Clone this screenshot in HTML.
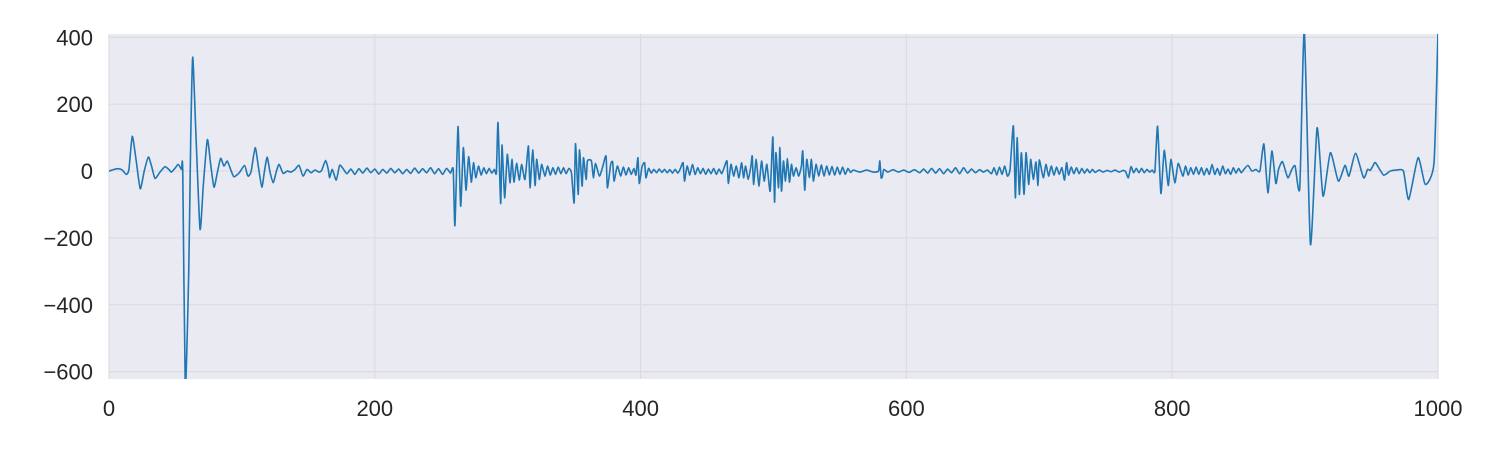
<!DOCTYPE html>
<html><head><meta charset="utf-8">
<style>
body{margin:0;background:#fff;}
svg{display:block;font-family:"Liberation Sans","DejaVu Sans",sans-serif;}
</style></head>
<body>
<svg id="chart" width="1500" height="450" viewBox="0 0 1500 450">
<rect x="109" y="34" width="1329" height="345" fill="#eaeaf2"/>
<g id="grid"></g>
<g id="ticks"></g>
<defs><clipPath id="clip"><rect x="109" y="34" width="1329" height="345"/></clipPath></defs>
<path id="line" fill="none" stroke="#1f77b4" stroke-width="1.6" stroke-linejoin="round" clip-path="url(#clip)"/>
</svg>
<script>
const xTicks = [0, 200, 400, 600, 800, 1000];
const yTicks = [-600, -400, -200, 0, 200, 400];
const xs = [0,4,7,10,13,15,17.5,20.5,23.5,26.5,29.6,32,34.6,38,42,45,47,50,52,54.5,55.5,57.4,60,61.5,63,65.5,68.5,71,74,76.5,79,81.5,84,86.5,89,91.5,94,98,102,104,105,107,110,112.5,115,117,119,121,123.5,126,128,131,134,137,140,143,146,149,152,155,158,160,163,165,166,168,171,173.5,
176,179,182,185,188,191,194,197,200,203,206,209,212,215,218,221,224,227,230,233,236,239,242,245,248,251,254,257,
259,260.3,262.6,264.6,266.6,268.6,270.6,272.6,274.3,276,278,280,282,284,286,288,290,291.5,
292.7,294.7,295.7,297.7,299.7,301.7,303.2,304.7,306.7,308.7,310.5,313,315.6,316.8,318.8,320.6,321.8,323.8,325.5,328,330,332,334,336,338,340,342,344,346,348,
350,351,353,354,356,357,359,360,363,364.5,366,369,371.5,374,375,377.5,379,380,382.5,385,387,389,391,393,395,396.5,398,399,401,403,404,406,408,410,412,414,416,418,420,422,424,426,428,430,432,433,435,437,439,441,443,445,447,449,451,453,455,457,459,461,463,465,466,468,470,472,474,476,477.5,479,481,483,484,485,487,489,491,493,495,497.5,499.5,500.8,501.8,503.8,504.8,506,507.5,509,510.5,512,
513.5,515,517,519,521,522,523.5,525,527,528.5,530,532,534,536,538,540,542,544,546,548,550,552,554,556,558,560,565,570,575,579,580,581,582,583,586,590,594,598,602,606,610,613,616,619,622,625,628,631,634,637,640,643,646,649,652,655,658,661,664,666,668,670,672,674,676,678,
680.5,682,683.3,685,686.5,688.5,690,692,693.5,695.5,697.5,699,700,703,705,707,709,711,713,715,717,719,720.5,722,724,726,728,730,732,734,736,738,740,742,745,748,751,754,757,760,763,765,767,769,771,773,775,777,779,781,783,785,787,
789,791.5,794,797,799,802,804.5,808,810,812,814,816,818,820,822,824,826,828,830,832,834,836,838,840,842,844,846,848,850,852,854,857,860,863,866,
869,872,875,878,880,883,887,890,892.5,896,899.4,904,909,913.5,919,925,930,933,938,944,947,949,951,953,959,964,969,974,978,985,990.5,997,1000];
const ys = [0,5,7,3,-10,5,104,30,-53,0,42,15,-22,-5,13,5,-3,10,20,5,0,-650,-300,100,341,100,-174,-40,94,20,-48,-5,38,15,30,5,-17,-5,17,-10,-15,0,70,10,-48,0,42,0,-35,0,20,-7,0,-3,5,17,-15,5,-5,3,-3,2,32,5,-20,5,-27,17,
8,-8,6,-10,7,-6,9,-5,6,-9,5,-6,8,-5,6,-8,5,-7,9,-6,7,-5,10,-8,7,-10,8,-6,
5,-163,133,-105,70,-57,43,-33,25,-20,15,-12,10,-8,8,-6,5,-5,
145,-97,78,-80,50,-35,35,-33,23,-27,20,-25,75,-50,63,-43,35,-25,20,-15,15,-12,10,-10,12,-8,10,-8,8,-6,
-95,82,-70,63,-45,40,-25,30,30,-20,23,-15,13,45,-50,20,27,-30,15,-15,12,-12,10,-10,8,-12,40,-37,12,25,-20,8,-6,5,-5,6,-4,5,-5,4,-6,5,-6,8,25,-30,15,-12,20,-10,10,-8,8,-10,6,-8,8,-10,6,-8,12,30,-37,20,-15,15,-20,25,-20,15,-25,15,45,-40,35,-45,30,-30,20,-60,102,-93,55,-50,70,-60,30,-30,37,-33,
20,-15,10,-15,15,60,-57,35,-20,35,-30,20,-15,18,-15,15,-12,14,-12,12,-10,12,-10,8,-4,3,-3,3,-3,0,30,-20,-15,5,-3,4,-3,3,-4,4,-5,6,-6,8,-6,7,-8,6,-5,10,-8,10,-6,6,-5,4,-3,3,-8,10,-12,12,-10,15,-15,5,
135,-80,100,-70,55,-70,55,-40,35,-25,27,-43,33,-20,20,-15,15,-12,12,-10,10,-27,25,-12,12,-8,10,-8,8,-6,6,-5,5,-4,3,-3,2,-2,3,-3,2,-2,-20,13,-5,8,-5,8,-5,5,-3,3,0,
134,-67,62,-43,35,-35,23,-15,15,-12,10,-10,12,-10,10,-12,8,-10,20,-10,8,-12,15,-8,6,-10,10,-6,8,-5,5,17,0,5,0,
81,-65,60,-37,5,28,-20,5,15,-50,420,-219,129,-75,55,-30,17,-15,53,-20,5,2,15,25,-12,0,3,0,-85,40,-40,25,420];

const L=109, R=1438, T=34, B=379;
const xMin=0, xMax=1000, yMin=-622, yMax=410;
function sx(v){return L+(v-xMin)/(xMax-xMin)*(R-L);}
function sy(v){return B-(v-yMin)/(yMax-yMin)*(B-T);}
const NS='http://www.w3.org/2000/svg';
const grid=document.getElementById('grid'), ticks=document.getElementById('ticks');
xTicks.forEach(t=>{
  const ln=document.createElementNS(NS,'line');
  
  
  ln.setAttribute('x1',sx(t));ln.setAttribute('x2',sx(t));ln.setAttribute('y1',T);ln.setAttribute('y2',B);
  ln.setAttribute('stroke','#dcdce0');ln.setAttribute('stroke-width','1.2');
  grid.appendChild(ln);
  const tx=document.createElementNS(NS,'text');
  
  
  tx.setAttribute('x',sx(t));tx.setAttribute('y',416);tx.setAttribute('text-anchor','middle');
  tx.setAttribute('font-size','22');tx.setAttribute('fill','#262626');
  tx.textContent=t;ticks.appendChild(tx);
});
yTicks.forEach(t=>{
  const ln=document.createElementNS(NS,'line');
  
  
  ln.setAttribute('x1',L);ln.setAttribute('x2',R);ln.setAttribute('y1',sy(t));ln.setAttribute('y2',sy(t));
  ln.setAttribute('stroke','#dcdce0');ln.setAttribute('stroke-width','1.2');
  grid.appendChild(ln);
  const tx=document.createElementNS(NS,'text');
  
  
  tx.setAttribute('x',93);tx.setAttribute('y',sy(t)+8);tx.setAttribute('text-anchor','end');
  tx.setAttribute('font-size','22');tx.setAttribute('fill','#262626');
  tx.textContent=(t<0?'\u2212'+(-t):t);ticks.appendChild(tx);
});
// smooth Catmull-Rom path through data points
const P=xs.map((x,i)=>[sx(x),sy(ys[i])]);
let d='M'+P[0][0].toFixed(2)+','+P[0][1].toFixed(2);
const k=0.5/3;
for(let i=0;i<P.length-1;i++){
  const p0=P[Math.max(0,i-1)],p1=P[i],p2=P[i+1],p3=P[Math.min(P.length-1,i+2)];
  const c1x=p1[0]+(p2[0]-p0[0])*k*0.6, c1y=p1[1]+(p2[1]-p0[1])*k*0.6;
  const c2x=p2[0]-(p3[0]-p1[0])*k*0.6, c2y=p2[1]-(p3[1]-p1[1])*k*0.6;
  d+='C'+c1x.toFixed(2)+','+c1y.toFixed(2)+' '+c2x.toFixed(2)+','+c2y.toFixed(2)+' '+p2[0].toFixed(2)+','+p2[1].toFixed(2);
}
document.getElementById('line').setAttribute('d',d);
</script>
</body></html>
